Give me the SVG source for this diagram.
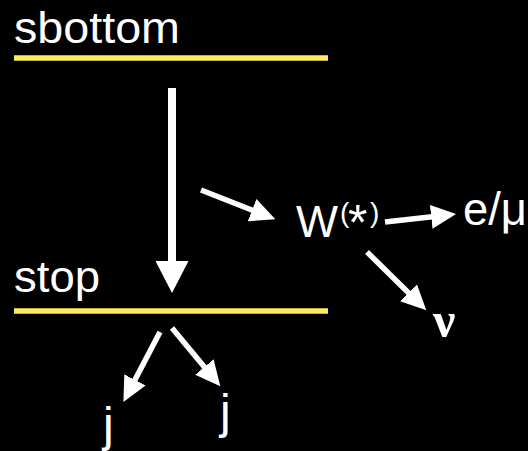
<svg xmlns="http://www.w3.org/2000/svg" width="528" height="451" viewBox="0 0 528 451">
<style>
.t{font-family:"Liberation Sans",Arial,Helvetica,sans-serif;fill:#fff}
.lvl{stroke:#fdeb5b;stroke-width:5.5;fill:none}
.a{stroke:#fff;fill:none;stroke-width:5.5}
.ab{stroke:#fff;fill:none;stroke-width:8}
</style>
<defs>
<marker id="hs" markerUnits="userSpaceOnUse" viewBox="0 -12 25 24" markerWidth="25" markerHeight="24" refX="1" refY="0" orient="auto"><path d="M0,-12 L25,0 L0,12 z" fill="#fff"/></marker>
<marker id="hb" markerUnits="userSpaceOnUse" viewBox="0 -16.5 32 33" markerWidth="32" markerHeight="33" refX="1" refY="0" orient="auto"><path d="M0,-16.5 L32,0 L0,16.5 z" fill="#fff"/></marker>
</defs>
<rect width="528" height="451" fill="#000"/>
<g id="sbottom"><text class="t" x="14" y="43" font-size="45" textLength="166" lengthAdjust="spacingAndGlyphs">sbottom</text><line class="lvl" x1="14" y1="58" x2="328" y2="58"/></g>
<g id="stop"><text class="t" x="14" y="292" font-size="44" textLength="86" lengthAdjust="spacingAndGlyphs">stop</text><line class="lvl" x1="14" y1="311" x2="328" y2="311"/></g>
<g id="W"><text class="t" x="296" y="237" font-size="44" textLength="42" lengthAdjust="spacingAndGlyphs">W</text><text class="t" font-size="28"><tspan x="340" y="222">(</tspan><tspan x="348" y="240" font-size="50">*</tspan><tspan x="370" y="222">)</tspan></text></g>
<g id="lepton"><text class="t" x="463" y="225" font-size="46" textLength="64" lengthAdjust="spacingAndGlyphs">e/μ</text></g>
<g id="nu"><text x="433" y="337" font-size="50" font-weight="bold" font-family="'Liberation Serif','Times New Roman',serif" fill="#fff">ν</text></g>
<g id="j1"><text class="t" x="103" y="441" font-size="48">j</text></g>
<g id="j2"><text class="t" x="220" y="428" font-size="48">j</text></g>
<g id="connectors">
<line class="ab" x1="172" y1="88" x2="172" y2="262" marker-end="url(#hb)"/>
<line class="a" x1="201" y1="190" x2="253" y2="210.5" marker-end="url(#hs)"/>
<line class="a" x1="385" y1="222" x2="432.2" y2="216.7" marker-end="url(#hs)"/>
<line class="a" x1="367" y1="252" x2="409.2" y2="293.5" marker-end="url(#hs)"/>
<line class="a" x1="160" y1="332" x2="134.5" y2="380.8" marker-end="url(#hs)"/>
<line class="a" x1="172" y1="328" x2="205" y2="367.8" marker-end="url(#hs)"/>
</g>
</svg>
